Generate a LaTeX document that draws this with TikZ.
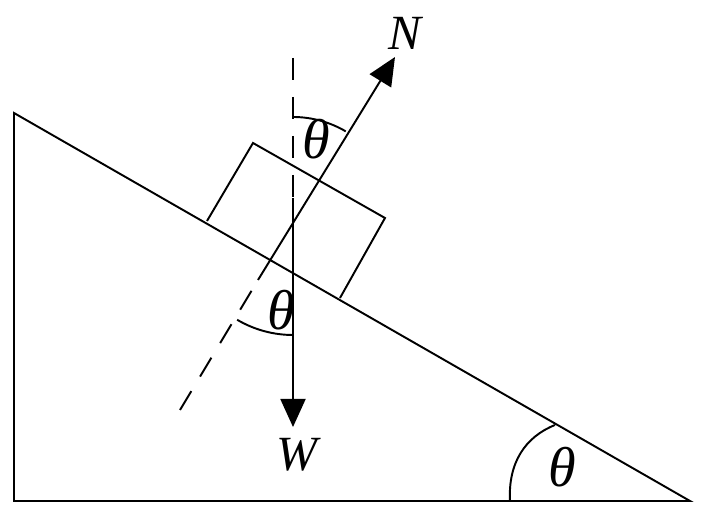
\documentclass[tikz,border=0pt]{standalone}
\usepackage{fontspec}
\setmainfont{Liberation Serif}
\usetikzlibrary{arrows.meta, positioning}
\begin{document}
\begin{tikzpicture}
  [
    x=0.02cm, y=0.02cm,
    Line/.style={draw=black, line width=1.1pt},
    Force/.style={Line, -{Triangle[length=5.6mm, width=5mm]}},
    Dash/.style={Line, dash pattern=on 4.4mm off 3.4mm},
    Label/.style={inner sep=0pt, font=\fontsize{28}{30}\selectfont\itshape},
    Angle/.style={inner sep=0pt, font=\fontsize{32}{34}\selectfont\itshape}
  ]
  \useasboundingbox (0,0) rectangle (701,513);
  % Points
  \coordinate (top) at (14,400);
  \coordinate (corner) at (14,12);
  \coordinate (foot) at (690,12);
  \coordinate (b1) at (207,292);
  \coordinate (b2) at (253,370);
  \coordinate (b3) at (385,295);
  \coordinate (b4) at (340,215);
  \coordinate (n0) at (180,103);
  \coordinate (n1) at (258,233);
  \coordinate (ntip) at (395,456);
  \coordinate (v0) at (293,455);
  \coordinate (v1) at (293,315);
  \coordinate (wtip) at (293,86);
  % Nodes
  \node[Label] (N) at (405,480) {N};
  \node[Label] (W) at (297,58) {W};
  \node[Angle] (t1) at (316,374) {θ};
  \node[Angle] (t2) at (281,203) {θ};
  \node[Angle] (t3) at (562,46) {θ};
  % Lines
  \path[Line] (top) -- (corner) -- (foot) -- cycle;
  \path[Line] (b1) -- (b2) -- (b3) -- (b4);
  \path[Force] (n1) -- (ntip);
  \path[Dash] (n0) -- (n1);
  \path[Dash] (v0) -- (v1);
  \path[Force] (v1) -- (wtip);
  \path[Line] (293,396) arc[start angle=90, end angle=59.5, radius=2.08cm];
  \path[Line] (293,178) arc[start angle=270, end angle=239.5, radius=2.2cm];
  \path[Line] (510,12) .. controls (508,50) and (525,76) .. (555,88);
\end{tikzpicture}
\end{document}
